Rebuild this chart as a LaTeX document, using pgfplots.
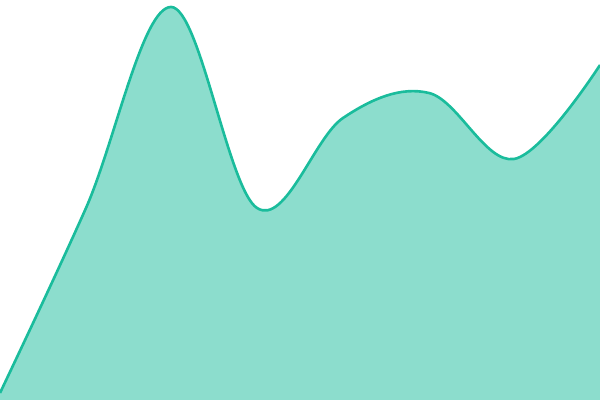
\documentclass[border=0pt]{standalone}
\usepackage{pgfplots}
\usepackage{pgfplotstable}
\pgfplotsset{compat=1.18}
\definecolor{turq}{HTML}{1ABC9C}
% values in pixel units, y measured from the bottom
\pgfplotstableread{
x y
0 7
86 192
171 393
257 192
343 282
429 307
514 241
600 335
}\curve
\begin{document}
\begin{tikzpicture}
\begin{axis}[
  scale only axis,
  width=6in, height=4in,
  xmin=0, xmax=600, ymin=0, ymax=400,
  axis line style={draw=none},
  ticks=none,
]
\addplot[draw=none, fill=turq, fill opacity=0.5, smooth, tension=0.6]
  table {\curve} \closedcycle;
\addplot[draw=turq, line width=1.9pt, smooth, tension=0.6]
  table {\curve};
\end{axis}
\end{tikzpicture}
\end{document}
